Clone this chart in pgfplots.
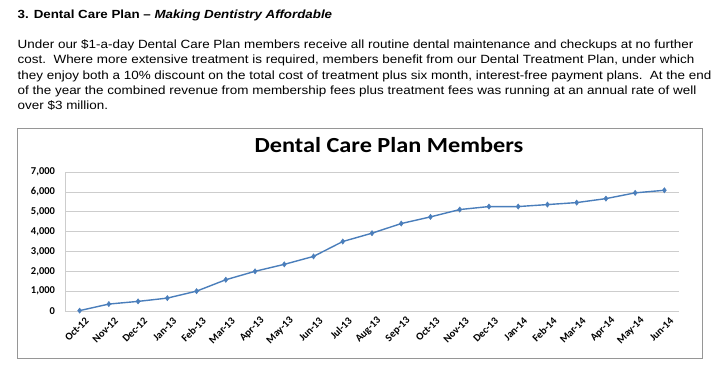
\documentclass[border=0pt]{standalone}
\usepackage{pgfplots}
\pgfplotsset{compat=1.18}
\usepackage{fontspec}
\usepackage{graphicx}
\setmainfont{Liberation Sans}
\newfontfamily\calibri{Carlito}
\definecolor{excelblue}{RGB}{74,126,187}
\definecolor{gridgray}{RGB}{205,205,205}
\definecolor{framegray}{RGB}{150,150,150}
\newcommand\sx[1]{\scalebox{1.13}[1]{#1}}
\begin{document}
\begin{tikzpicture}
\begin{scope}[x=1bp,y=-1bp]
\path[use as bounding box] (0,0) rectangle (725,368);
\fill[white] (0,0) rectangle (725,368);
% heading
\node[anchor=base west,inner sep=0pt,font=\fontsize{11.8bp}{14bp}\selectfont\bfseries] at (17.5,18.5)
  {\sx{3. Dental Care Plan -- \textit{Making Dentistry Affordable}}};
% paragraph
\begin{scope}[every node/.style={anchor=base west,inner sep=0pt,font=\fontsize{11.9bp}{15bp}\selectfont}]
\node at (17.5,48.3) {\sx{Under our \$1-a-day Dental Care Plan members receive all routine dental maintenance and checkups at no further}};
\node at (17.5,63.7) {\sx{cost.\ \ Where more extensive treatment is required, members benefit from our Dental Treatment Plan, under which}};
\node at (17.5,79.1) {\sx{they enjoy both a 10\% discount on the total cost of treatment plus six month, interest-free payment plans.\ \ At the end}};
\node at (17.5,94.5) {\sx{of the year the combined revenue from membership fees plus treatment fees was running at an annual rate of well}};
\node at (17.5,109.9) {\sx{over \$3 million.}};
\end{scope}
% chart frame
\draw[framegray,line width=0.8bp] (17.5,128) rectangle (702,358);
\node[anchor=base,inner sep=0pt,font=\calibri\bfseries\fontsize{21.5bp}{24bp}\selectfont] at (389,152.5) {\sx{Dental Care Plan Members}};
\end{scope}
\begin{axis}[
  at={(65bp,-311bp)}, anchor=south west,
  scale only axis, width=614bp, height=139bp,
  xmin=-0.5, xmax=20.5, ymin=0, ymax=7000,
  ytick={0,1000,...,7000},
  xtick={0,...,20},
  xticklabels={Oct-12,Nov-12,Dec-12,Jan-13,Feb-13,Mar-13,Apr-13,May-13,Jun-13,Jul-13,Aug-13,Sep-13,Oct-13,Nov-13,Dec-13,Jan-14,Feb-14,Mar-14,Apr-14,May-14,Jun-14},
  /pgf/number format/1000 sep={,},
  /pgf/number format/assume math mode=true,
  ymajorgrids, grid style={gridgray,line width=0.6bp},
  axis x line*=bottom, axis y line*=left,
  axis line style={gridgray,line width=0.6bp},
  major tick length=0pt,
  tick style={draw=none},
  yticklabel style={font=\calibri\bfseries\fontsize{10.5bp}{12bp}\selectfont, xshift=-6.5bp},
  xticklabel style={font=\calibri\bfseries\fontsize{10.5bp}{12bp}\selectfont, rotate=45, anchor=east, xshift=3bp, yshift=-11bp},
  clip=false,
]
\addplot[excelblue, line width=1.4bp, mark=diamond*, mark size=2.6bp, mark options={fill=excelblue,draw=excelblue,line width=0.5bp}]
  coordinates {
  (0,20) (1,350) (2,485) (3,650) (4,1000) (5,1575) (6,2000) (7,2350) (8,2750) (9,3500)
  (10,3920) (11,4405) (12,4740) (13,5110) (14,5260) (15,5260) (16,5360) (17,5460) (18,5660) (19,5950) (20,6080)
  };
\end{axis}
\end{tikzpicture}
\end{document}
